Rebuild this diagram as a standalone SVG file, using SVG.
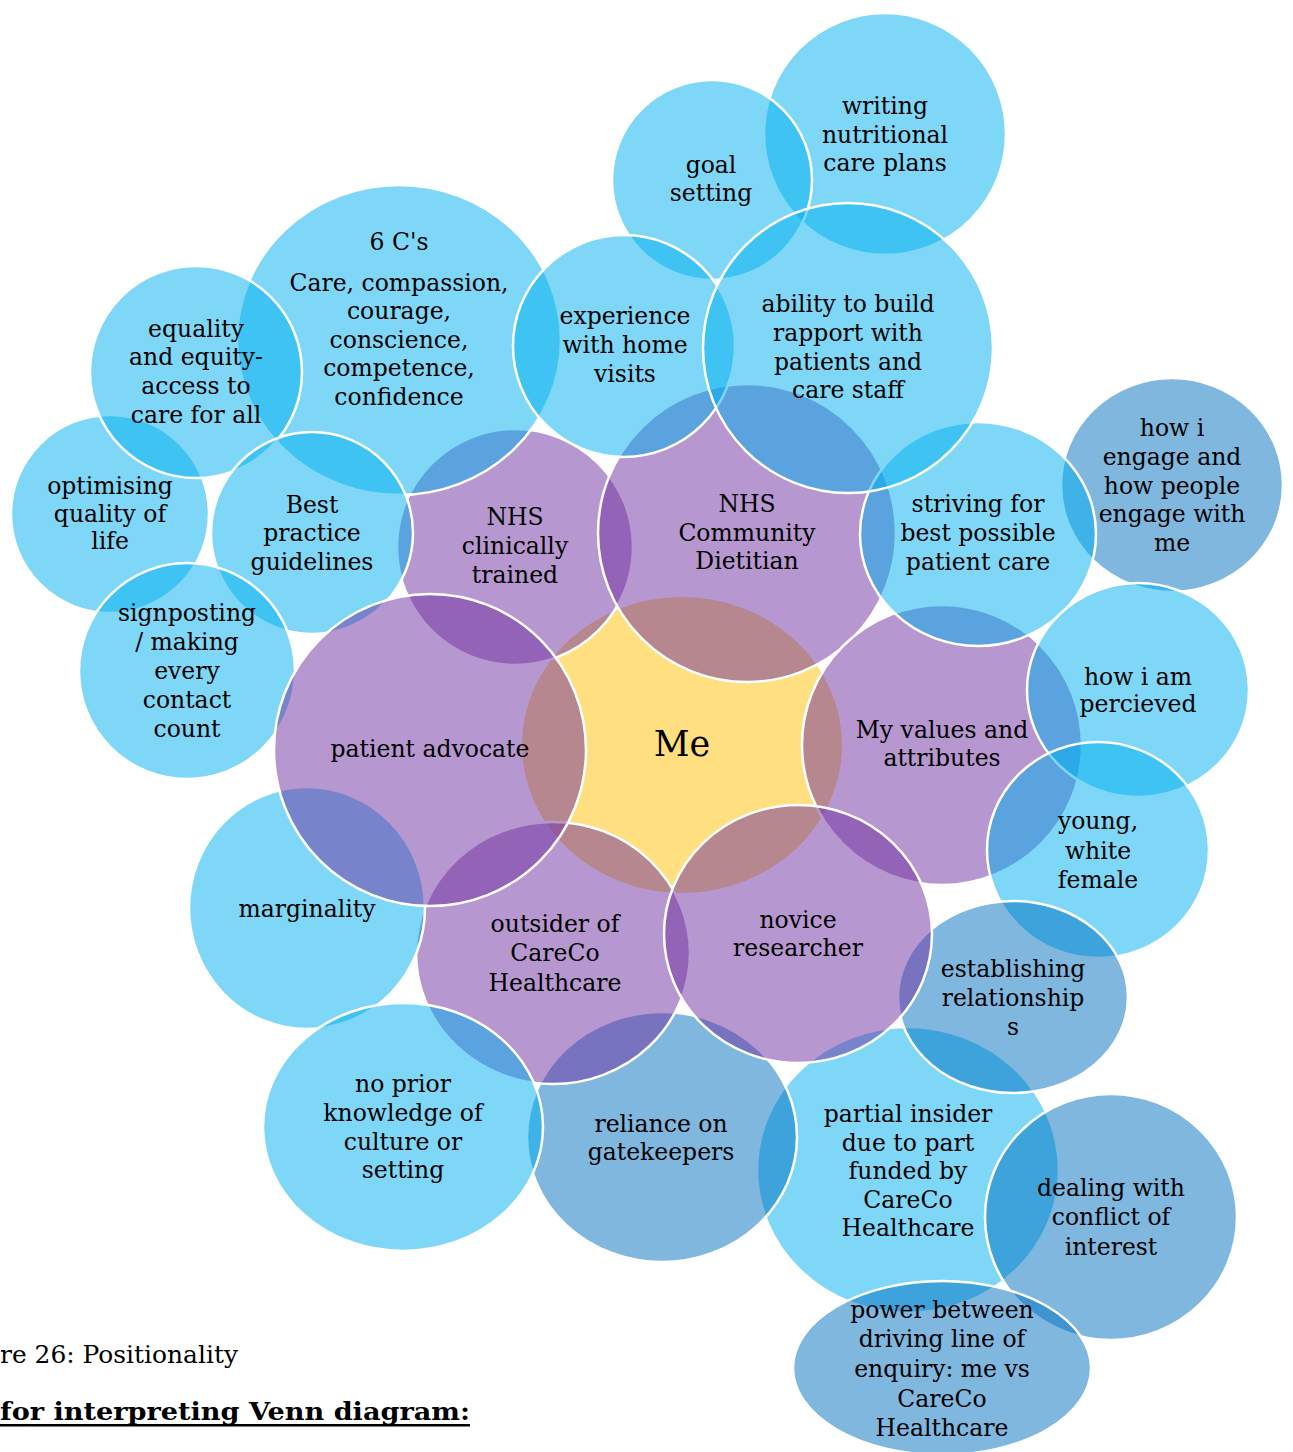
<svg xmlns="http://www.w3.org/2000/svg" width="1293" height="1452" viewBox="0 0 1293 1452">
  <style>
    .lb { fill: #00B0F0; fill-opacity: 0.5; stroke: #ffffff; stroke-width: 2.5; }
    .db { fill: #0070C0; fill-opacity: 0.5; stroke: #ffffff; stroke-width: 2.5; }
    .pu { fill: #7030A0; fill-opacity: 0.5; stroke: #ffffff; stroke-width: 2.5; }
    .ye { fill: #FFC000; fill-opacity: 0.5; stroke: none; }
    .t { font-family: "DejaVu Serif", "Liberation Serif", serif; font-size: 23.5px; text-anchor: middle; fill: #000000; }
    .me { font-family: "DejaVu Serif", "Liberation Serif", serif; font-size: 35px; text-anchor: middle; fill: #000000; }
    .cap { font-family: "DejaVu Serif", "Liberation Serif", serif; font-size: 25px; fill: #000000; }
    .capb { font-family: "DejaVu Serif", "Liberation Serif", serif; font-size: 25px; font-weight: bold; fill: #000000; }
  </style>
  <rect width="1293" height="1452" fill="#ffffff"/>

  <!-- centre -->
  <g id="me">
    <ellipse class="ye" cx="682" cy="745" rx="160" ry="148"/>
    <text class="me" x="682" y="756">Me</text>
  </g>

  <g id="writing-care-plans">
    <circle class="lb" cx="885" cy="134" r="121"/>
    <text class="t" x="885" y="114">writing</text>
    <text class="t" x="885" y="143">nutritional</text>
    <text class="t" x="885" y="171">care plans</text>
  </g>

  <g id="goal-setting">
    <circle class="lb" cx="712" cy="180" r="100"/>
    <text class="t" x="711" y="173">goal</text>
    <text class="t" x="711" y="201">setting</text>
  </g>

  <g id="nhs-clinically-trained">
    <circle class="pu" cx="515" cy="547" r="118"/>
    <text class="t" x="515" y="525">NHS</text>
    <text class="t" x="515" y="554">clinically</text>
    <text class="t" x="515" y="583">trained</text>
  </g>

  <g id="six-cs">
    <ellipse class="lb" cx="399" cy="340" rx="162" ry="155"/>
    <text class="t" x="399" y="250">6 C's</text>
    <text class="t" x="399" y="291">Care, compassion,</text>
    <text class="t" x="399" y="319">courage,</text>
    <text class="t" x="399" y="348">conscience,</text>
    <text class="t" x="399" y="376">competence,</text>
    <text class="t" x="399" y="405">confidence</text>
  </g>

  <g id="optimising-quality">
    <circle class="lb" cx="110" cy="514" r="99"/>
    <text class="t" x="110" y="494">optimising</text>
    <text class="t" x="110" y="522">quality of</text>
    <text class="t" x="110" y="549">life</text>
  </g>

  <g id="equality-equity">
    <circle class="lb" cx="196" cy="372" r="106"/>
    <text class="t" x="196" y="337">equality</text>
    <text class="t" x="196" y="365">and equity-</text>
    <text class="t" x="196" y="394">access to</text>
    <text class="t" x="196" y="423">care for all</text>
  </g>

  <g id="best-practice">
    <circle class="lb" cx="312" cy="533" r="101"/>
    <text class="t" x="312" y="513">Best</text>
    <text class="t" x="312" y="541">practice</text>
    <text class="t" x="312" y="570">guidelines</text>
  </g>

  <g id="signposting">
    <circle class="lb" cx="187" cy="671" r="108"/>
    <text class="t" x="187" y="621">signposting</text>
    <text class="t" x="187" y="650">/ making</text>
    <text class="t" x="187" y="679">every</text>
    <text class="t" x="187" y="708">contact</text>
    <text class="t" x="187" y="737">count</text>
  </g>

  <g id="nhs-community-dietitian">
    <circle class="pu" cx="747" cy="533" r="149"/>
    <text class="t" x="747" y="512">NHS</text>
    <text class="t" x="747" y="541">Community</text>
    <text class="t" x="747" y="569">Dietitian</text>
  </g>

  <g id="home-visits">
    <circle class="lb" cx="624" cy="346" r="111"/>
    <text class="t" x="625" y="324">experience</text>
    <text class="t" x="625" y="353">with home</text>
    <text class="t" x="625" y="382">visits</text>
  </g>

  <g id="how-i-engage">
    <ellipse class="db" cx="1172" cy="485" rx="111" ry="107"/>
    <text class="t" x="1172" y="436">how i</text>
    <text class="t" x="1172" y="465">engage and</text>
    <text class="t" x="1172" y="494">how people</text>
    <text class="t" x="1172" y="522">engage with</text>
    <text class="t" x="1172" y="551">me</text>
  </g>

  <g id="values-attributes">
    <circle class="pu" cx="942" cy="745" r="140"/>
    <text class="t" x="942" y="738">My values and</text>
    <text class="t" x="942" y="766">attributes</text>
  </g>

  <g id="striving">
    <ellipse class="lb" cx="978" cy="534" rx="118" ry="112"/>
    <text class="t" x="978" y="512">striving for</text>
    <text class="t" x="978" y="541">best possible</text>
    <text class="t" x="978" y="570">patient care</text>
  </g>

  <g id="build-rapport">
    <circle class="lb" cx="848" cy="348" r="145"/>
    <text class="t" x="848" y="312">ability to build</text>
    <text class="t" x="848" y="341">rapport with</text>
    <text class="t" x="848" y="370">patients and</text>
    <text class="t" x="848" y="398">care staff</text>
  </g>

  <g id="how-perceived">
    <ellipse class="lb" cx="1138" cy="690" rx="111" ry="107"/>
    <text class="t" x="1138" y="685">how i am</text>
    <text class="t" x="1138" y="712">percieved</text>
  </g>

  <g id="young-white-female">
    <ellipse class="lb" cx="1098" cy="850" rx="111" ry="108"/>
    <text class="t" x="1098" y="829">young,</text>
    <text class="t" x="1098" y="859">white</text>
    <text class="t" x="1098" y="888">female</text>
  </g>

  <g id="partial-insider">
    <ellipse class="lb" cx="908" cy="1170" rx="151" ry="143"/>
    <text class="t" x="908" y="1122">partial insider</text>
    <text class="t" x="908" y="1151">due to part</text>
    <text class="t" x="908" y="1179">funded by</text>
    <text class="t" x="908" y="1208">CareCo</text>
    <text class="t" x="908" y="1236">Healthcare</text>
  </g>

  <g id="gatekeepers">
    <ellipse class="db" cx="662" cy="1137" rx="135" ry="125"/>
    <text class="t" x="661" y="1132">reliance on</text>
    <text class="t" x="661" y="1160">gatekeepers</text>
  </g>

  <g id="outsider">
    <ellipse class="pu" cx="553" cy="953" rx="137" ry="131"/>
    <text class="t" x="555" y="932">outsider of</text>
    <text class="t" x="555" y="961">CareCo</text>
    <text class="t" x="555" y="991">Healthcare</text>
  </g>

  <g id="marginality">
    <ellipse class="lb" cx="307" cy="908" rx="118" ry="121"/>
    <text class="t" x="307" y="917">marginality</text>
  </g>

  <g id="patient-advocate">
    <circle class="pu" cx="430" cy="750" r="156"/>
    <text class="t" x="430" y="757">patient advocate</text>
  </g>

  <g id="no-prior-knowledge">
    <ellipse class="lb" cx="403" cy="1127" rx="140" ry="124"/>
    <text class="t" x="403" y="1092">no prior</text>
    <text class="t" x="403" y="1121">knowledge of</text>
    <text class="t" x="403" y="1150">culture or</text>
    <text class="t" x="403" y="1178">setting</text>
  </g>

  <g id="establishing-relationships">
    <ellipse class="db" cx="1013" cy="997" rx="115" ry="96"/>
    <text class="t" x="1013" y="977">establishing</text>
    <text class="t" x="1013" y="1006">relationship</text>
    <text class="t" x="1013" y="1035">s</text>
  </g>

  <g id="novice-researcher">
    <ellipse class="pu" cx="798" cy="934" rx="134" ry="129"/>
    <text class="t" x="798" y="928">novice</text>
    <text class="t" x="798" y="956">researcher</text>
  </g>

  <g id="conflict-of-interest">
    <ellipse class="db" cx="1111" cy="1217" rx="126" ry="123"/>
    <text class="t" x="1111" y="1196">dealing with</text>
    <text class="t" x="1111" y="1225">conflict of</text>
    <text class="t" x="1111" y="1255">interest</text>
  </g>

  <g id="power-enquiry">
    <ellipse class="db" cx="942" cy="1368" rx="149" ry="87"/>
    <text class="t" x="942" y="1318">power between</text>
    <text class="t" x="942" y="1347">driving line of</text>
    <text class="t" x="942" y="1377">enquiry: me vs</text>
    <text class="t" x="942" y="1407">CareCo</text>
    <text class="t" x="942" y="1436">Healthcare</text>
  </g>

  <!-- caption -->
  <g id="caption">
    <text class="cap" x="0" y="1363" textLength="238" lengthAdjust="spacingAndGlyphs">re 26: Positionality</text>
    <text class="capb" x="0" y="1420" textLength="470" lengthAdjust="spacingAndGlyphs">for interpreting Venn diagram:</text>
    <rect x="0" y="1424" width="470" height="2.5" fill="#000000"/>
  </g>
</svg>
